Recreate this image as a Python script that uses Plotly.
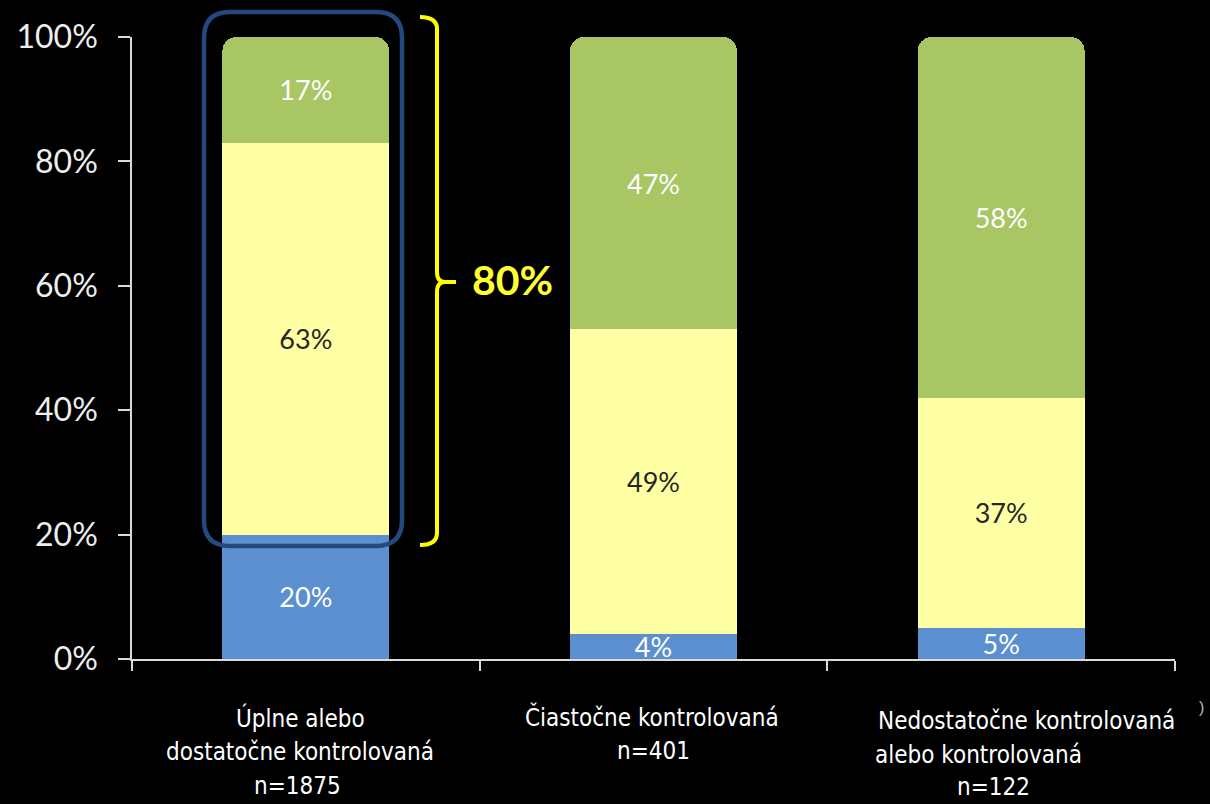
import plotly.graph_objects as go

categories = ["Úplne alebo dostatočne kontrolovaná", "Čiastočne kontrolovaná", "Nedostatočne kontrolovaná alebo kontrolovaná"]
blue_vals = [0.20, 0.04, 0.05]
yellow_vals = [0.63, 0.49, 0.37]
green_vals = [0.17, 0.47, 0.58]
y_ticks = [0, 0.2, 0.4, 0.6, 0.8, 1.0]
y_tick_labels = ["0%", "20%", "40%", "60%", "80%", "100%"]
bracket_label = "80%"

W, H = 1210, 804
L, R, T, B = 132, 35, 37, 145
PW, PH = W - L - R, H - T - B


def X(px):
    return (px - L) / PW


def Y(py):
    return (H - B - py) / PH


fig = go.Figure()
series = [
    (blue_vals, "#5B8FCF", "white"),
    (yellow_vals, "#FFFFA3", "#262626"),
    (green_vals, "#A8C664", "white"),
]
for vals, col, tcol in series:
    fig.add_trace(go.Bar(
        x=list(range(len(categories))), y=vals,
        marker=dict(color=col, line=dict(width=0)),
        width=0.48,
        text=[f"{round(v*100)}%" for v in vals],
        textposition="inside", insidetextanchor="middle",
        textfont=dict(family="Lato, Open Sans, sans-serif", size=27, color=tcol),
        constraintext="none", cliponaxis=False,
        hoverinfo="skip",
    ))

fig.update_layout(
    width=W, height=H, autosize=False,
    barmode="stack", bargap=0.52, barcornerradius=14,
    paper_bgcolor="black", plot_bgcolor="black",
    margin=dict(l=L, r=R, t=T, b=B),
    showlegend=False,
    uniformtext=dict(mode=False),
)
fig.update_xaxes(
    type="linear", range=[-0.5, 2.5], tickmode="array", tickvals=[-0.5, 0.5, 1.5, 2.5],
    showticklabels=False, showgrid=False, zeroline=False,
    showline=True, linecolor="#D9D9D9", linewidth=1.5,
    ticks="outside", ticklen=10, tickcolor="#D9D9D9", tickwidth=1.5,
)
fig.update_yaxes(
    range=[0, 1], tickvals=y_ticks, ticktext=y_tick_labels,
    showgrid=False, zeroline=False,
    showline=True, linecolor="#D9D9D9", linewidth=1.5,
    ticks="outside", ticklen=12, tickcolor="#D9D9D9", tickwidth=1.5,
    tickfont=dict(family="Lato, Open Sans, sans-serif", size=32, color="#EEEEEE"),
    ticklabelstandoff=14,
)

# rounded rectangle around the top two segments of bar 1
x0, x1, y0, y1, r = 204, 402, 12, 546, 26
path = (f"M {X(x0+r)},{Y(y0)} L {X(x1-r)},{Y(y0)} Q {X(x1)},{Y(y0)} {X(x1)},{Y(y0+r)} "
        f"L {X(x1)},{Y(y1-r)} Q {X(x1)},{Y(y1)} {X(x1-r)},{Y(y1)} "
        f"L {X(x0+r)},{Y(y1)} Q {X(x0)},{Y(y1)} {X(x0)},{Y(y1-r)} "
        f"L {X(x0)},{Y(y0+r)} Q {X(x0)},{Y(y0)} {X(x0+r)},{Y(y0)} Z")
fig.add_shape(type="path", path=path, xref="paper", yref="paper",
              line=dict(color="#24497E", width=4.5), fillcolor="rgba(0,0,0,0)", layer="above")

# yellow brace
bx, top, bot, mid = 437, 17, 545, 282
bpath = (f"M {X(420)},{Y(top)} Q {X(bx)},{Y(top)} {X(bx)},{Y(top+12)} "
         f"L {X(bx)},{Y(mid-10)} Q {X(bx)},{Y(mid)} {X(bx+8)},{Y(mid)} L {X(bx+19)},{Y(mid)} "
         f"M {X(bx+8)},{Y(mid)} Q {X(bx)},{Y(mid)} {X(bx)},{Y(mid+10)} "
         f"L {X(bx)},{Y(bot-12)} Q {X(bx)},{Y(bot)} {X(420)},{Y(bot)}")
fig.add_shape(type="path", path=bpath, xref="paper", yref="paper",
              line=dict(color="#FFFF00", width=4), layer="above")

fig.add_annotation(x=X(512), y=Y(279), xref="paper", yref="paper", text=f"<b>{bracket_label}</b>",
                   showarrow=False, font=dict(family="Lato, Open Sans, sans-serif", size=41, color="#FFFF33"),
                   xanchor="center", yanchor="middle")

# category labels
lab_font = dict(family="Liberation Sans Narrow, Arial Narrow, DejaVu Sans Condensed, sans-serif", size=24, color="white")
label_lines = [
    [("Úplne alebo", 300, 718, "center"), ("dostatočne kontrolovaná", 300, 752, "center"), ("n=1875", 297, 786, "center")],
    [("Čiastočne kontrolovaná", 652, 717, "center"), ("n=401", 653, 751, "center")],
    [("Nedostatočne kontrolovaná", 1026, 721, "center"), ("alebo kontrolovaná", 873, 755, "left"), ("n=122", 993, 787, "center")],
]
for lines in label_lines:
    for txt, px, py, anc in lines:
        fig.add_annotation(x=X(px), y=Y(py), xref="paper", yref="paper", text=txt, showarrow=False,
                           font=lab_font, xanchor=anc, yanchor="middle")

fig.add_annotation(x=X(1201), y=Y(707), xref="paper", yref="paper", text=")", showarrow=False,
                   font=dict(family="Liberation Sans Narrow, sans-serif", size=16, color="#BBBBBB"),
                   xanchor="center", yanchor="middle")

fig.write_html("out.html")
